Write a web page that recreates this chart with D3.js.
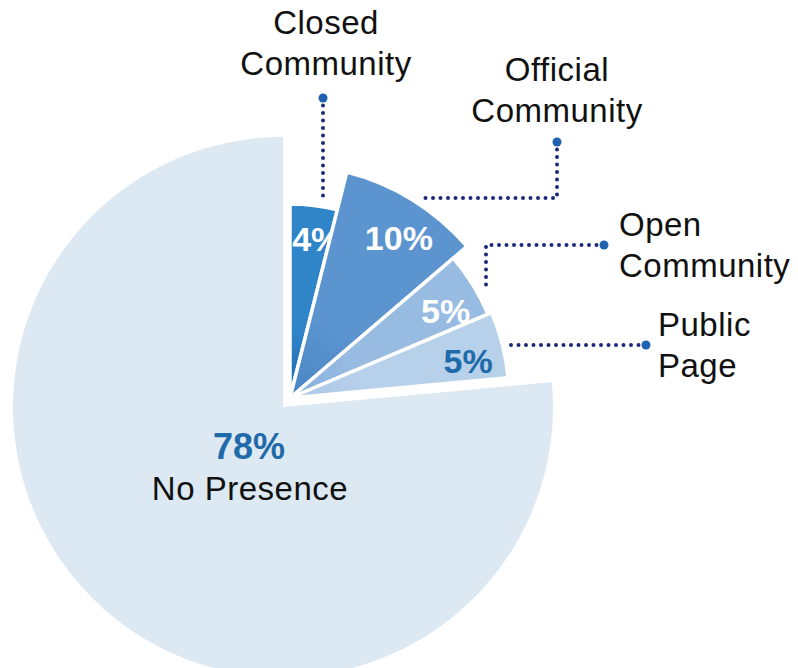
<!DOCTYPE html>
<html><head><meta charset="utf-8">
<script src="https://cdn.jsdelivr.net/npm/d3@7"></script>
<style>html,body{margin:0;padding:0;background:#fff;}svg{display:block;}</style>
</head><body>
<svg id="chart" width="798" height="668"></svg>
<script>
// ---- data ----
const categories = ["Closed Community", "Official Community", "Open Community", "Public Page", "No Presence"];
const values = [4, 10, 5, 5, 78];
const valueLabels = ["4%", "10%", "5%", "5%", "78%"];
const nameLines = [["Closed", "Community"], ["Official", "Community"], ["Open", "Community"], ["Public", "Page"], ["No Presence"]];

// ---- styles ----
const colors = ["#2f85c8", "#5b94cf", "#98bbe2", "#b8d1eb", "#dce9f3"];
const darkEdge = ["#1a69ad", "#4a86c4", "#88b0dc", "#a9c7e7", "#dce9f3"];
const radii = [194, 233, 215, 219, 270];
const labelColors = ["#ffffff", "#ffffff", "#ffffff", "#1f6aa8", "#1f6aa8"];
const font = "'Liberation Sans', Arial, Helvetica, sans-serif";

const svg = d3.select("#chart");
const defs = svg.append("defs");

const pie = d3.pie().sort(null).value(d => d).startAngle(0).endAngle(2 * Math.PI);
const arcsData = pie(values);

const smallCenter = [290, 398];
const bigCenter = [283, 407];

arcsData.forEach((d, i) => {
  const g = defs.append("radialGradient").attr("id", "grad" + i)
    .attr("gradientUnits", "userSpaceOnUse")
    .attr("cx", 0).attr("cy", 0).attr("r", radii[i]);
  g.append("stop").attr("offset", "0%").attr("stop-color", darkEdge[i]);
  g.append("stop").attr("offset", "35%").attr("stop-color", colors[i]);
  g.append("stop").attr("offset", "100%").attr("stop-color", colors[i]);
});

// big slice
const bigIdx = 4;
const gBig = svg.append("g").attr("transform", `translate(${bigCenter})`);
gBig.append("path")
  .attr("d", d3.arc().innerRadius(0).outerRadius(radii[bigIdx])(arcsData[bigIdx]))
  .attr("fill", colors[bigIdx]);

// small slices
const gSmall = svg.append("g").attr("transform", `translate(${smallCenter})`);
arcsData.slice(0, 4).forEach((d, i) => {
  const arc = d3.arc().innerRadius(0).outerRadius(radii[i]);
  defs.append("clipPath").attr("id", "clip" + i)
    .append("path").attr("d", arc(d)).attr("transform", `translate(${smallCenter})`);
  gSmall.append("path")
    .attr("d", arc(d))
    .attr("fill", `url(#grad${i})`)
    .attr("stroke", "#ffffff")
    .attr("stroke-width", 3.5)
    .attr("stroke-linejoin", "miter");
});

// value labels in small slices
const labelRadiusFrac = 0.83;
const labelAngleShift = 2.5 * Math.PI / 180;
arcsData.slice(0, 4).forEach((d, i) => {
  const a = (d.startAngle + d.endAngle) / 2 + labelAngleShift;
  const r = radii[i] * labelRadiusFrac;
  const x = smallCenter[0] + Math.sin(a) * r;
  const y = smallCenter[1] - Math.cos(a) * r;
  svg.append("text")
    .attr("x", x).attr("y", y + 12)
    .attr("text-anchor", "middle")
    .attr("font-family", font).attr("font-weight", "bold").attr("font-size", 34)
    .attr("fill", labelColors[i])
    .attr("clip-path", i === 0 ? "url(#clip0)" : null)
    .text(valueLabels[i]);
});

// big slice labels
svg.append("text").attr("x", 249).attr("y", 459).attr("text-anchor", "middle")
  .attr("font-family", font).attr("font-weight", "bold").attr("font-size", 36)
  .attr("fill", labelColors[bigIdx]).text(valueLabels[bigIdx]);
svg.append("text").attr("x", 250).attr("y", 500).attr("text-anchor", "middle")
  .attr("font-family", font).attr("font-size", 33).attr("letter-spacing", 0.5).attr("fill", "#111")
  .text(nameLines[bigIdx][0]);

// leader lines (dotted) and endpoint dots
const leaders = [
  [[323, 98], [323, 196]],
  [[557, 142], [557, 198], [424, 198]],
  [[604, 245], [486, 245], [486, 292]],
  [[646, 345], [508, 345]]
];
const line = d3.line();
leaders.forEach(pts => {
  svg.append("path").attr("d", line(pts))
    .attr("fill", "none").attr("stroke", "#1b2a78").attr("stroke-width", 4)
    .attr("stroke-linecap", "round").attr("stroke-dasharray", "0 7.5");
  svg.append("circle").attr("cx", pts[0][0]).attr("cy", pts[0][1]).attr("r", 4.5)
    .attr("fill", "#1f62b0");
});

// category labels
const nameAnchors = [
  {x: 326, y: 34, anchor: "middle"},
  {x: 557, y: 81, anchor: "middle"},
  {x: 619, y: 236, anchor: "start"},
  {x: 658, y: 336, anchor: "start"}
];
nameAnchors.forEach((p, i) => {
  const t = svg.append("text").attr("x", p.x).attr("y", p.y).attr("text-anchor", p.anchor)
    .attr("font-family", font).attr("font-size", 33).attr("letter-spacing", 0.5).attr("fill", "#111");
  nameLines[i].forEach((s, j) => {
    t.append("tspan").attr("x", p.x).attr("dy", j === 0 ? 0 : 41).text(s);
  });
});
</script>
</body></html>
